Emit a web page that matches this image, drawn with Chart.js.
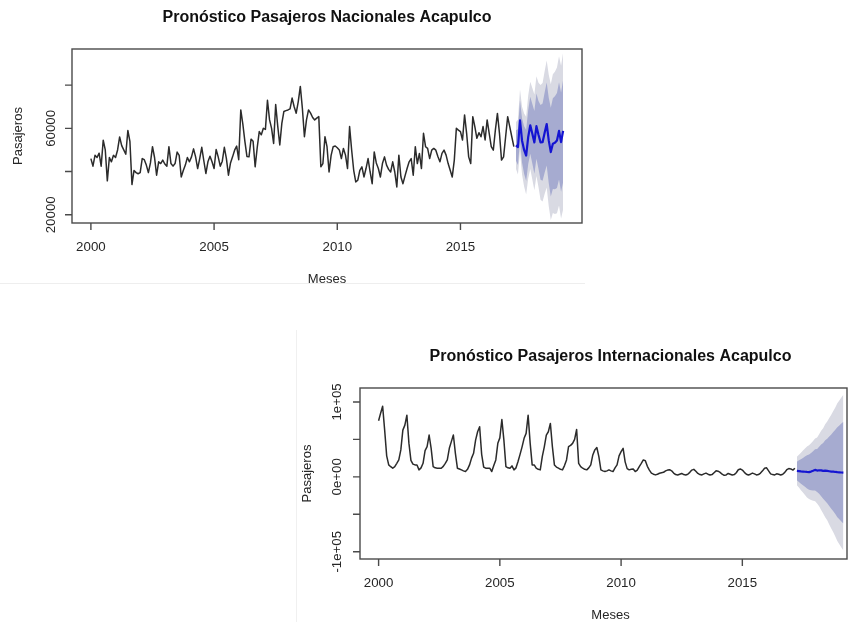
<!DOCTYPE html>
<html>
<head>
<meta charset="utf-8">
<script src="https://cdn.jsdelivr.net/npm/chart.js@4.4.1/dist/chart.umd.min.js"></script>
<style>
html,body{margin:0;padding:0;background:#fff;width:849px;height:622px;overflow:hidden;position:relative}
canvas{position:absolute}
#c1{left:0;top:0}
#c2{left:290px;top:330px}
#sepH{position:absolute;left:0;top:283px;width:585px;height:0;border-top:1px solid #eeeeee}
#sepV{position:absolute;left:296px;top:330px;width:0;height:292px;border-left:1px solid #f0f0f0}
</style>
</head>
<body>
<div id="sepH"></div>
<div id="sepV"></div>
<canvas id="c1" width="600" height="290"></canvas>
<canvas id="c2" width="559" height="292"></canvas>
<script>
// ---------- data ----------
const START_YEAR = 2000;          // monthly series starting January 2000
const xTickYears = [2000, 2005, 2010, 2015];

// Pasajeros Nacionales, Jan 2000 - Mar 2017
const natHist = [
  46000, 42500, 47500, 46500, 48500, 42500, 54500, 50000, 35700, 46500, 44500, 47500,
  46500, 50000, 56000, 52000, 50000, 48000, 59000, 54000, 34000, 40500, 39500, 39000,
  39500, 46000, 45500, 43000, 39500, 44000, 51500, 46500, 38300, 44500, 43700, 45300,
  43500, 42500, 51500, 43700, 42500, 43700, 49000, 47500, 37500, 40500, 43000, 46500,
  44500, 46800, 50500, 46800, 41400, 46000, 51200, 45000, 39100, 44500, 47100, 44500,
  41400, 50200, 46800, 42500, 44800, 51200, 46000, 38300, 44000, 46800, 49900, 51800,
  45500, 68500, 62000, 54000, 47000, 46800, 55000, 54000, 42200, 51000, 58500, 57000,
  60000, 59500, 73000, 64000, 60000, 53000, 71000, 61000, 52300, 62300, 67800, 68200,
  68500, 69000, 74000, 70000, 67000, 72400, 79400, 69300, 56100, 63900, 68500, 67000,
  65000, 63900, 64700, 65400, 42200, 43700, 56100, 51500, 39800, 47500, 51500, 51800,
  51000, 50000, 46000, 50700, 47600, 41400, 60800, 50000, 40600, 35200, 36000, 40600,
  42200, 37500, 41400, 46000, 39800, 34400, 49100, 44000, 41400, 37500, 43700, 46800,
  43000, 41000, 39800, 44500, 39800, 32900, 47600, 37500, 34400, 38000, 41400, 44500,
  46000, 38300, 51500, 43700, 48400, 41400, 57700, 51500, 50700, 46000, 49900, 50700,
  49900, 47000, 44500, 48400, 49900, 47600, 43700, 40600, 37500, 45300, 60000, 59200,
  58500, 54600, 66200, 57700, 46800, 43700, 65400, 60800, 55400, 58000, 56100, 60800,
  54600, 63900, 57700, 51500, 49900, 59200, 66900, 57700, 45300, 46800, 56100, 65400,
  60800, 56100, 51500
];
// forecast Apr 2017 - Mar 2019
const natFc   = [52100, 51300, 63700, 54300, 50000, 47400, 56000, 61400, 57500, 53500, 61000, 57000, 53500, 53600, 58000, 62000, 54400, 49000, 52900, 53300, 54400, 58800, 53600, 58800];
const natHi80 = [59100, 59600, 73000, 64500, 61000, 59200, 68500, 74600, 71300, 68000, 76100, 72700, 70800, 71500, 76600, 81200, 74200, 69500, 73900, 74800, 76400, 81300, 76600, 82500];
const natLo80 = [45100, 43000, 54400, 44100, 39000, 35600, 43500, 48200, 43700, 39000, 45900, 41300, 36200, 35700, 39400, 42800, 34600, 28500, 31900, 31800, 32400, 36300, 30600, 35100];
const natHi95 = [62900, 64000, 78000, 70000, 66900, 65400, 75200, 81600, 78700, 75700, 84100, 81100, 80000, 81000, 86400, 91400, 84800, 80400, 85000, 86200, 88100, 93300, 88900, 95100];
const natLo95 = [41300, 38600, 49400, 38600, 33100, 29400, 36800, 41200, 36300, 31400, 37900, 32900, 27000, 26200, 29600, 32600, 24000, 17600, 20800, 20400, 20700, 24300, 18300, 22500];
const natYTicks = [20000, 40000, 60000, 80000];
const natYLabels = [[20000, "20000"], [60000, "60000"]];

// Pasajeros Internacionales, Jan 2000 - Mar 2017
const intHist = [
  74800, 85000, 94300, 62400, 28000, 15900, 13500, 11500, 13700, 18000, 22600, 35900,
  62400, 69000, 82300, 45000, 22000, 17000, 15900, 15900, 9300, 12000, 18100, 35000,
  40400, 55800, 38100, 13700, 12000, 11500, 11500, 11500, 14000, 18000, 22600, 38100,
  47000, 55800, 31400, 11500, 10500, 9300, 8000, 7100, 10000, 15900, 25000, 31400,
  49100, 60200, 66800, 30000, 13000, 11500, 11500, 11500, 7100, 15000, 22600, 44700,
  52000, 76600, 49100, 13700, 12000, 11500, 14600, 9300, 12000, 20400, 30000, 40000,
  51400, 58000, 82300, 45000, 15900, 15900, 11500, 10000, 9300, 27000, 40000, 55800,
  60200, 71300, 40400, 15900, 13000, 11500, 10000, 9300, 15000, 22600, 40400, 42000,
  44700, 50000, 63300, 18000, 13700, 11500, 10000, 9300, 12000, 16000, 29200, 36000,
  39200, 27000, 9300, 8000, 7100, 8000, 9300, 8000, 7100, 12000, 15900, 28000,
  33600, 38100, 20000, 11000, 9300, 10000, 10400, 7100, 9000, 13700, 18000, 22600,
  21500, 14000, 9000, 5000, 3500, 2600, 3500, 4800, 5500, 6000, 8000, 9000,
  9500, 8000, 5000, 3000, 2500, 3500, 4500, 3000, 2500, 3500, 6000, 9000,
  10000, 7500, 4500, 3000, 2500, 4000, 5000, 3500, 2500, 3000, 5500, 8000,
  7500, 6000, 3500, 2000, 2500, 4500, 3500, 2500, 3000, 5500, 9500, 10500,
  9000, 6000, 3500, 2500, 3500, 5000, 4000, 2500, 3000, 5000, 8000, 11500,
  12000, 8000, 4000, 3000, 2500, 4000, 3500, 2500, 3500, 6000, 9500, 11000,
  10500, 9000, 11500
];
const intFc   = [7900, 7600, 7200, 7000, 6800, 6500, 6300, 7000, 8000, 9300, 8400, 8800, 8600, 7900, 8200, 7900, 7500, 7000, 6900, 6500, 6200, 6000, 5800, 5600];
const intHi80 = [20300, 22000, 23500, 25300, 27000, 28700, 29800, 31800, 34100, 36700, 37100, 40100, 43200, 45100, 48700, 51000, 53900, 56600, 59800, 62700, 66300, 68700, 71100, 73500];
const intLo80 = [-4500, -6800, -9100, -11300, -13400, -15700, -17200, -17800, -18100, -18100, -20300, -22500, -26000, -29300, -32300, -35200, -38900, -42600, -46000, -49700, -53900, -56700, -59500, -62300];
const intHi95 = [26900, 29600, 32200, 35000, 37800, 40500, 42300, 45000, 48000, 51300, 52400, 56800, 61600, 64900, 70200, 73900, 78500, 83000, 87900, 92500, 98200, 102000, 105800, 109600];
const intLo95 = [-11100, -14400, -17800, -21000, -24200, -27500, -29700, -31000, -32000, -32700, -35600, -39200, -44400, -49100, -53800, -58100, -63500, -69000, -74100, -79500, -85800, -90000, -94200, -98400];
const intYTicks = [-100000, -50000, 0, 50000, 100000];
const intYLabels = [[-100000, "-1e+05"], [0, "0e+00"], [100000, "1e+05"]];

// ---------- helpers ----------
const FONT = '"Liberation Sans", Arial, Helvetica, sans-serif';
function histPts(arr) { return arr.map((v, i) => ({x: START_YEAR + i / 12, y: v})); }
function fcPts(arr, offset) { return arr.map((v, j) => ({x: START_YEAR + (offset + j) / 12, y: v})); }

const rStyle = {
  id: 'rStyle',
  afterDraw(chart, args, o) {
    const ctx = chart.ctx, a = chart.chartArea, xs = chart.scales.x, ys = chart.scales.y;
    ctx.save();
    ctx.strokeStyle = '#4a4a4a';
    ctx.lineWidth = 1.4;
    ctx.strokeRect(a.left, a.top, a.right - a.left, a.bottom - a.top);
    ctx.beginPath();
    o.xTicks.forEach(v => {
      const px = xs.getPixelForValue(v);
      ctx.moveTo(px, a.bottom); ctx.lineTo(px, a.bottom + 7);
    });
    o.yTicks.forEach(v => {
      const py = ys.getPixelForValue(v);
      ctx.moveTo(a.left, py); ctx.lineTo(a.left - 7, py);
    });
    ctx.stroke();
    ctx.fillStyle = '#262626';
    ctx.textAlign = 'center';
    ctx.textBaseline = 'middle';
    ctx.font = '13.3px ' + FONT;
    o.xTicks.forEach(v => ctx.fillText(String(v), xs.getPixelForValue(v), a.bottom + 24));
    o.yLabels.forEach(([v, t]) => {
      ctx.save();
      ctx.translate(a.left - o.yLabelOff, ys.getPixelForValue(v));
      ctx.rotate(-Math.PI / 2);
      ctx.fillText(t, 0, 0);
      ctx.restore();
    });
    ctx.font = '13px ' + FONT;
    ctx.fillText(o.xTitle, o.centerX, a.bottom + 56);
    ctx.save();
    ctx.translate(a.left - o.yTitleOff, (a.top + a.bottom) / 2);
    ctx.rotate(-Math.PI / 2);
    ctx.fillText(o.yTitle, 0, 0);
    ctx.restore();
    ctx.fillStyle = '#111';
    ctx.font = 'bold 16px ' + FONT;
    ctx.fillText(o.title, o.centerX, a.top - 31);
    ctx.restore();
  }
};

function makeChart(id, hist, fc, lo80, hi80, lo95, hi95, cfg) {
  const n = hist.length;
  const lineBase = {pointRadius: 0, borderJoinStyle: 'round', tension: 0, fill: false};
  const band = {pointRadius: 0, borderWidth: 0, tension: 0};
  return new Chart(document.getElementById(id), {
    type: 'line',
    data: {
      datasets: [
        Object.assign({}, lineBase, {data: histPts(hist), borderColor: '#2b2b2b', borderWidth: 1.5, order: 0}),
        Object.assign({}, lineBase, {data: fcPts(fc, n), borderColor: '#1414d2', borderWidth: 2.2, order: 0}),
        Object.assign({}, band, {data: fcPts(hi80, n), fill: '+1', backgroundColor: '#a6abd0', order: 1}),
        Object.assign({}, band, {data: fcPts(lo80, n), fill: false, order: 1}),
        Object.assign({}, band, {data: fcPts(hi95, n), fill: '+1', backgroundColor: '#d9dae3', order: 2}),
        Object.assign({}, band, {data: fcPts(lo95, n), fill: false, order: 2})
      ]
    },
    options: {
      responsive: false,
      animation: false,
      devicePixelRatio: 1,
      layout: {padding: cfg.padding},
      plugins: {
        legend: {display: false},
        tooltip: {enabled: false},
        rStyle: cfg.axes
      },
      scales: {
        x: {type: 'linear', min: 1999.233, max: cfg.xMax, display: false},
        y: {type: 'linear', min: cfg.yMin, max: cfg.yMax, display: false}
      }
    },
    plugins: [rStyle]
  });
}

makeChart('c1', natHist, natFc, natLo80, natHi80, natLo95, natHi95, {
  padding: {left: 72, right: 18, top: 49, bottom: 67},
  xMax: 2019.933, yMin: 16200, yMax: 96700,
  axes: {
    xTicks: xTickYears, yTicks: natYTicks, yLabels: natYLabels,
    yLabelOff: 21, yTitleOff: 54, centerX: 327,
    title: 'Pronóstico Pasajeros Nacionales Acapulco',
    xTitle: 'Meses', yTitle: 'Pasajeros'
  }
});

makeChart('c2', intHist, intFc, intLo80, intHi80, intLo95, intHi95, {
  padding: {left: 70, right: 2, top: 58, bottom: 63},
  xMax: 2019.316, yMin: -109700, yMax: 118600,
  axes: {
    xTicks: xTickYears, yTicks: intYTicks, yLabels: intYLabels,
    yLabelOff: 23, yTitleOff: 53, centerX: 320.5,
    title: 'Pronóstico Pasajeros Internacionales Acapulco',
    xTitle: 'Meses', yTitle: 'Pasajeros'
  }
});
</script>
</body>
</html>
